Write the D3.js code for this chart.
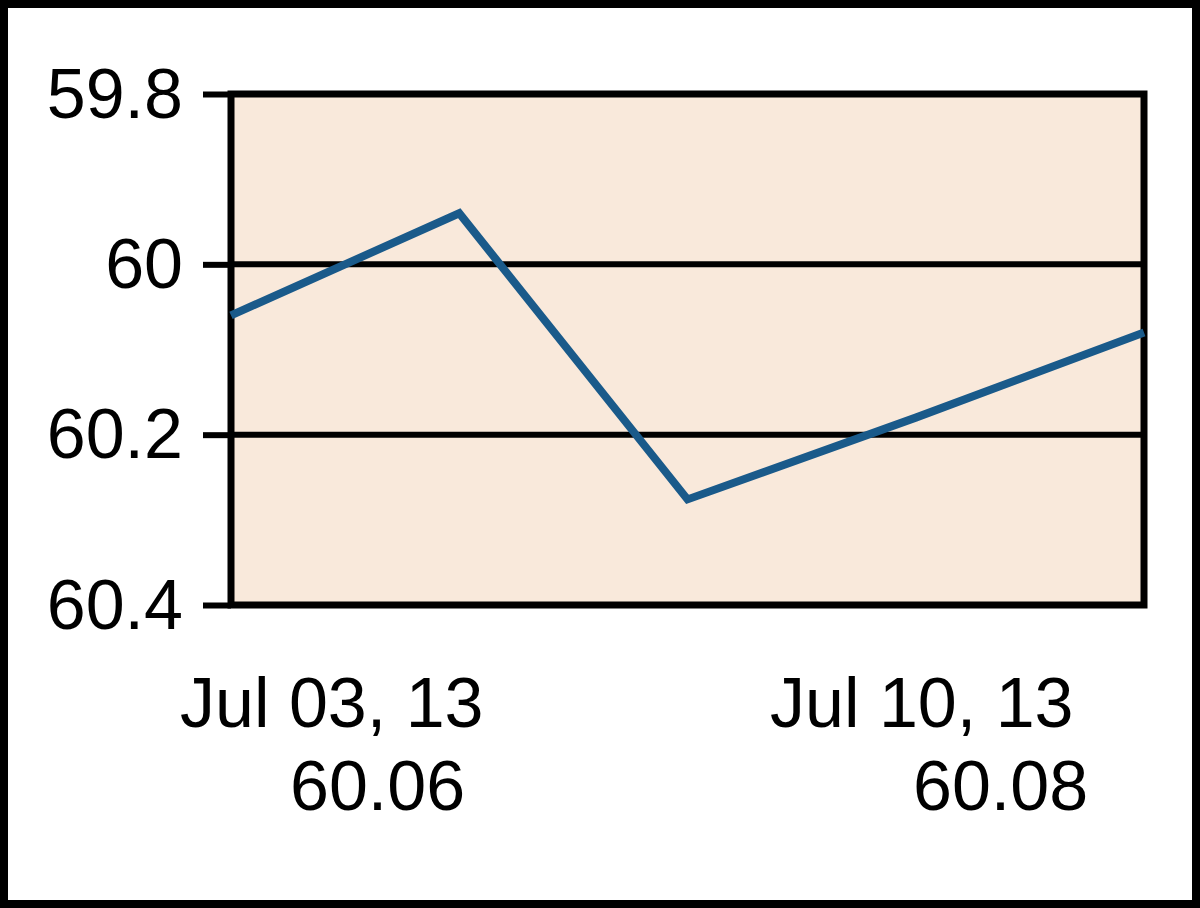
<!DOCTYPE html>
<html>
<head>
<meta charset="utf-8">
<script src="https://cdn.jsdelivr.net/npm/d3@7/dist/d3.min.js"></script>
<style>
  html, body { margin: 0; padding: 0; background: #fff; }
  svg { display: block; }
  text { font-family: "Liberation Sans", Arial, sans-serif; fill: #000; }
</style>
</head>
<body>
<svg id="chart" width="1200" height="908"></svg>
<script>
// ---- data ----
const dates = ["Jul 03, 13", "Jul 05, 13", "Jul 08, 13", "Jul 09, 13", "Jul 10, 13"];
const values = [60.06, 59.94, 60.276, 60.18, 60.08];
const yTicks = [59.8, 60, 60.2, 60.4];
const firstLabel = ["Jul 03, 13", "60.06"];
const lastLabel = ["Jul 10, 13", "60.08"];

const svg = d3.select("#chart");
const W = 1200, H = 908;
const plot = { left: 231, top: 94, right: 1144, bottom: 605 };

// outer frame
svg.append("rect").attr("x", 4).attr("y", 4).attr("width", W - 8).attr("height", H - 8)
  .attr("fill", "#fff").attr("stroke", "#000").attr("stroke-width", 8);

const x = d3.scalePoint().domain(dates).range([plot.left, plot.right]);
const y = d3.scaleLinear().domain([59.8, 60.4]).range([plot.top, plot.bottom]);

// plot background
svg.append("rect")
  .attr("x", plot.left).attr("y", plot.top)
  .attr("width", plot.right - plot.left).attr("height", plot.bottom - plot.top)
  .attr("fill", "#f9e9db");

// grid lines
svg.append("g").selectAll("line").data(yTicks).join("line")
  .attr("x1", plot.left).attr("x2", plot.right)
  .attr("y1", d => y(d)).attr("y2", d => y(d))
  .attr("stroke", "#000").attr("stroke-width", 6);

// y axis
const yAxis = d3.axisLeft(y).tickValues(yTicks).tickSize(28).tickPadding(20)
  .tickFormat(d => d3.format("")(+d.toFixed(1)));
const gy = svg.append("g").attr("transform", `translate(${plot.left},0)`).call(yAxis);
gy.select(".domain").remove();
gy.selectAll(".tick line").attr("stroke", "#000").attr("stroke-width", 6);
gy.selectAll(".tick text")
  .attr("font-size", 70)
  .attr("font-family", "Liberation Sans, Arial, sans-serif")
  .attr("fill", "#000")
  .attr("dy", "0.33em");

// frame
svg.append("rect")
  .attr("x", plot.left).attr("y", plot.top)
  .attr("width", plot.right - plot.left).attr("height", plot.bottom - plot.top)
  .attr("fill", "none").attr("stroke", "#000").attr("stroke-width", 7);

// line
const line = d3.line().x((d, i) => x(dates[i])).y(d => y(d));
svg.append("path").datum(values)
  .attr("d", line)
  .attr("fill", "none").attr("stroke", "#1a5a8a").attr("stroke-width", 8)
  .attr("stroke-linejoin", "miter");

// bottom labels
function label(lines, x1, x2) {
  const g = svg.append("g").attr("font-size", 70);
  g.append("text").attr("x", x1).attr("y", 727).text(lines[0]);
  g.append("text").attr("x", x2).attr("y", 810).text(lines[1]);
}
label(firstLabel, plot.left - 51, plot.left + 59);
label(lastLabel, plot.right - 374, plot.right - 231);
</script>
</body>
</html>
